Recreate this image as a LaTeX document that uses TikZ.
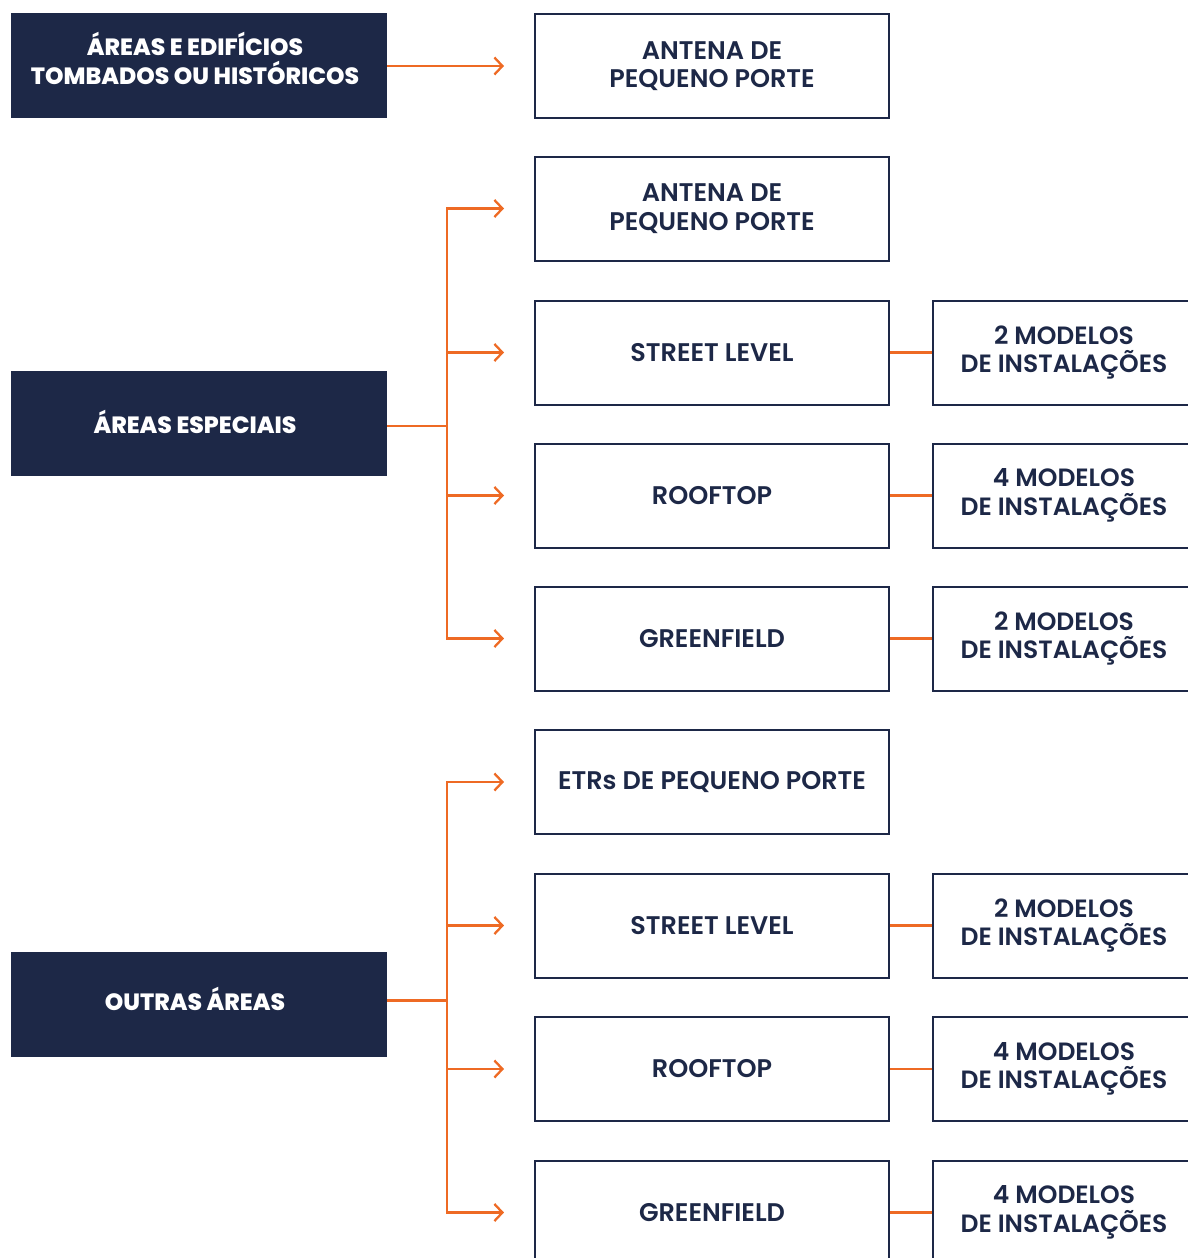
\documentclass[tikz,border=0pt]{standalone}
\usepackage{fontspec}
\setmainfont{Poppins}
\newfontfamily\semi{Poppins}[UprightFont=* SemiBold]
\newfontfamily\xbold{Poppins}[UprightFont=* ExtraBold]
\usetikzlibrary{arrows.meta}
\definecolor{navy}{HTML}{1D2847}
\definecolor{orng}{HTML}{EE6A24}
\tikzset{
  dark/.style={fill=navy, draw=none, minimum width=376pt, minimum height=105pt, inner sep=0pt},
  darktext/.style={text=white, font=\xbold\fontsize{23.5}{29}\selectfont, align=center, inner sep=0pt},
  midbox/.style={draw=navy, line width=2pt, fill=white, minimum width=354pt, minimum height=104pt, text=navy, font=\semi\fontsize{25.5}{28.5}\selectfont, align=center, inner sep=0pt},
  rbox/.style={draw=navy, line width=2pt, fill=white, minimum width=262pt, minimum height=104pt, text=navy, font=\semi\fontsize{25}{28.5}\selectfont, align=center, inner sep=0pt},
  conn/.style={draw=orng, line width=2.3pt},
  arr/.style={conn, -{Straight Barb[length=8pt, width=17pt, line width=2.3pt]}}
}
\begin{document}
\begin{tikzpicture}[x=1pt, y=-1pt]
\useasboundingbox (0,0) rectangle (1187,1258);
% left boxes
\node[dark] (L1) at (199,65.5) {};
\node[dark] (L2) at (199,423.5) {};
\node[dark] (L3) at (199,1004.5) {};
\node[darktext] (L1t) at (195,58) {ÁREAS E EDIFÍCIOS\\TOMBADOS OU HISTÓRICOS};
\node[darktext] (L2t) at (195,422) {ÁREAS ESPECIAIS};
\node[darktext] (L3t) at (195,999) {OUTRAS ÁREAS};
% middle boxes
\node[midbox] (M1) at (712,66) {ANTENA DE\\PEQUENO PORTE};
\node[midbox] (M2) at (712,208.5) {ANTENA DE\\PEQUENO PORTE};
\node[midbox] (M3) at (712,352.5) {STREET LEVEL};
\node[midbox] (M4) at (712,495.5) {ROOFTOP};
\node[midbox] (M5) at (712,638.5) {GREENFIELD};
\node[midbox] (M6) at (712,782) {ETRs DE PEQUENO PORTE};
\node[midbox] (M7) at (712,925.5) {STREET LEVEL};
\node[midbox] (M8) at (712,1069) {ROOFTOP};
\node[midbox] (M9) at (712,1212.5) {GREENFIELD};
% right boxes
\node[rbox] (R3) at (1064,352.5) {2 MODELOS\\DE INSTALAÇÕES};
\node[rbox] (R4) at (1064,495.5) {4 MODELOS\\DE INSTALAÇÕES};
\node[rbox] (R5) at (1064,638.5) {2 MODELOS\\DE INSTALAÇÕES};
\node[rbox] (R7) at (1064,925.5) {2 MODELOS\\DE INSTALAÇÕES};
\node[rbox] (R8) at (1064,1069) {4 MODELOS\\DE INSTALAÇÕES};
\node[rbox] (R9) at (1064,1212.5) {4 MODELOS\\DE INSTALAÇÕES};
% trunk coordinates
\coordinate (t2) at (447,426);
\coordinate (t3) at (447,1000.5);
% arrows
\draw[arr] (L1.east |- M1.west) -- ([xshift=-30pt]M1.west);
\draw[conn] (L2.east |- t2) -- (t2);
\draw[conn, line cap=rect] (t2 |- M2.west) -- (t2 |- M5.west);
\foreach \m in {M2,M3,M4,M5}{\draw[arr] (t2 |- \m.west) -- ([xshift=-30pt]\m.west);}
\draw[conn] (L3.east |- t3) -- (t3);
\draw[conn, line cap=rect] (t3 |- M6.west) -- (t3 |- M9.west);
\foreach \m in {M6,M7,M8,M9}{\draw[arr] (t3 |- \m.west) -- ([xshift=-30pt]\m.west);}
% right connectors
\foreach \a/\b in {M3/R3,M4/R4,M5/R5,M7/R7,M8/R8,M9/R9}{\draw[conn] (\a.east) -- (\b.west);}
\end{tikzpicture}
\end{document}
